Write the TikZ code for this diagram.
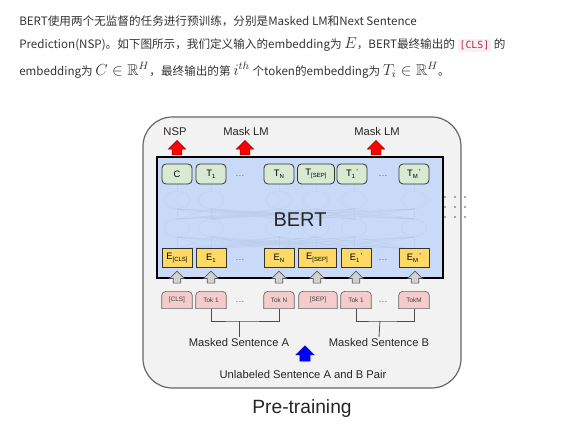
\documentclass[tikz,border=0pt]{standalone}
\usepackage{amsmath}
\usepackage{amssymb}
\usepackage{fontspec}
\setmainfont{Liberation Sans}
\newfontfamily\cjk{Noto Sans CJK SC}
\newfontfamily\codefont{DejaVu Sans Mono}
\usetikzlibrary{shapes.arrows,backgrounds,positioning}
\definecolor{bertblue}{RGB}{201,218,248}
\definecolor{tgreen}{RGB}{217,234,211}
\definecolor{eyellow}{RGB}{255,217,102}
\definecolor{tokpink}{RGB}{244,204,204}
\definecolor{meshblue}{RGB}{170,188,222}
\definecolor{codebg}{RGB}{246,242,244}
\definecolor{codefg}{RGB}{199,37,78}
\newcommand{\tsub}[1]{\raisebox{-0.45ex}{\fontsize{4.5}{5}\selectfont #1}}
\newcommand{\tsup}[1]{\raisebox{0.55ex}{\fontsize{5.5}{6}\selectfont\,#1}}
\newcommand{\mth}[1]{{\fontsize{11.8}{13}\selectfont$#1$}}
\newcommand{\code}[1]{{\setlength{\fboxsep}{1.5pt}\colorbox{codebg}{\codefont\fontsize{7.4}{9}\selectfont\color{codefg}#1}}}
\tikzset{para/.style={anchor=west,inner sep=0pt,text=black!80,font=\cjk\fontsize{8.7}{11}\selectfont}}
\tikzset{outbox/.style={draw=black!60,fill=black!5,line width=0.9pt,rounded corners=22pt}}
\tikzset{bertbox/.style={draw=black,fill=bertblue,line width=1.1pt}}
\tikzset{mesh/.style={draw=meshblue,line width=0.4pt,opacity=0.25}}
\tikzset{tbox/.style={draw=black!80,fill=tgreen,rounded corners=3pt,minimum width=22.5pt,minimum height=15pt,inner sep=0pt,line width=0.6pt,font=\fontsize{7}{8}\selectfont}}
\tikzset{ebox/.style={draw=black!80,fill=eyellow,minimum width=22.5pt,minimum height=14pt,inner sep=0pt,line width=0.6pt,font=\fontsize{7}{8}\selectfont}}
\tikzset{tokbox/.style={minimum width=22.5pt,minimum height=12.5pt,inner sep=0pt,text=black!75,font=\fontsize{4.8}{5}\selectfont}}
\tikzset{tokshape/.style={draw=black!60,fill=tokpink,line width=0.5pt}}
\tikzset{dotsnode/.style={text=black!60,font=\fontsize{7}{8}\selectfont}}
\tikzset{lbl/.style={text=black!85,inner sep=1pt,font=\fontsize{8.4}{10}\selectfont}}
\tikzset{bracket/.style={draw=black!70,line width=0.6pt}}
\tikzset{blockup/.style={single arrow,shape border rotate=90,single arrow head indent=0pt}}
\tikzset{redup/.style={blockup,draw=red!60!black,fill=red,line width=0.4pt,inner sep=3.4pt,minimum height=10.5pt,single arrow head extend=3pt}}
\tikzset{grayup/.style={blockup,draw=black!65,fill=black!18,line width=0.5pt,inner sep=2.6pt,minimum height=9pt,single arrow head extend=2.6pt}}
\tikzset{blueup/.style={blockup,draw=blue!70!black,fill=blue,line width=0.4pt,inner sep=3.6pt,minimum height=9.5pt,single arrow head extend=3pt}}

\begin{document}
\begin{tikzpicture}[x=0.75pt,y=-0.75pt]
    \useasboundingbox (0,0) rectangle (586,427);
    % text above the figure
    \node[para] (line1) at (19,21) {BERT使用两个无监督的任务进行预训练，分别是Masked LM和Next Sentence};
    \node[para] (line2) at (19,45) {Prediction(NSP)。如下图所示，我们定义输入的embedding为 \mth{E}，BERT最终输出的 \code{[CLS]} 的};
    \node[para] (line3) at (19,70) {embedding为 \mth{C\in\mathbb{R}^H}，最终输出的第 \mth{i^{th}} 个token的embedding为 \mth{T_i\in\mathbb{R}^H}。};
    % frame and encoder
    \begin{scope}[on background layer]
        \draw[outbox] (143,117) rectangle (461,388);
    \end{scope}
    \draw[bertbox] (157,157) rectangle (443,278);
    \foreach \x in {177,211,279,316,354,414} {
        \draw[mesh] (\x,200) ellipse (9.5pt and 6.5pt);
        \draw[mesh] (\x,228) ellipse (9.5pt and 6.5pt);
        \draw[mesh] (\x,184) -- (\x,191);
    }
    \foreach \x in {177,211,279,316,354,414}
        \foreach \y in {177,211,279,316,354,414} {
            \draw[mesh] (\x,209) -- (\y,219);
            \draw[mesh] (\x,237) -- (\y,249);
        }
    \node[font=\fontsize{15}{18}\selectfont,text=black!85] (bert) at (300,220) {BERT};
    \foreach \i in {445,455,465}
        \foreach \j in {197,207,217}
            \fill[black!45] (\i,\j) circle (0.8pt);
    % outputs
    \node[tbox] (tc) at (177,174) {C};
    \node[tbox] (t1) at (211,174) {T\tsub{1}};
    \node[dotsnode] (tdotsa) at (240,176) {\ldots};
    \node[tbox] (tn) at (279,174) {T\tsub{N}};
    \node[tbox,minimum width=27.75pt] (tsep) at (316,174) {T\tsub{[SEP]}};
    \node[tbox] (tb1) at (352,174) {T\tsub{1}\tsup{'}};
    \node[dotsnode] (tdotsb) at (383,176) {\ldots};
    \node[tbox] (tm) at (414,174) {T\tsub{M}\tsup{'}};
    \node[redup] (nsparrow) at (177,150) {};
    \node[redup] (mlmarrowa) at (245,150) {};
    \node[redup] (mlmarrowb) at (376,150) {};
    \node[lbl] (nsp) at (175,132) {NSP};
    \node[lbl] (mlma) at (246,132) {Mask LM};
    \node[lbl] (mlmb) at (377,132) {Mask LM};
    % embeddings
    \node[ebox] (ecls) at (177,258) {E\tsub{[CLS]}};
    \node[ebox] (e1) at (211,258) {E\tsub{1}};
    \node[dotsnode] (edotsa) at (240,260) {\ldots};
    \node[ebox] (en) at (279,258) {E\tsub{N}};
    \node[ebox,minimum width=28.5pt] (esep) at (317,258) {E\tsub{[SEP]}};
    \node[ebox] (eb1) at (356,258) {E\tsub{1}\tsup{'}};
    \node[dotsnode] (edotsb) at (383,260) {\ldots};
    \node[ebox] (em) at (414,258) {E\tsub{M}\tsup{'}};
    % input tokens
    \node[grayup] (ga1) at (177,279) {};
    \node[grayup] (ga2) at (211,279) {};
    \node[grayup] (ga3) at (279,279) {};
    \node[grayup] (ga4) at (317,279) {};
    \node[grayup] (ga5) at (356,279) {};
    \node[grayup] (ga6) at (415,279) {};
    \node[tokbox] (kcls) at (177,300) {[CLS]};
    \node[tokbox] (ka1) at (211,300) {Tok 1};
    \node[dotsnode] (kdotsa) at (240,302) {\ldots};
    \node[tokbox] (kan) at (279,300) {Tok N};
    \node[tokbox,minimum width=28.5pt] (ksep) at (318,300) {[SEP]};
    \node[tokbox] (kb1) at (356,300) {Tok 1};
    \node[dotsnode] (kdotsb) at (383,302) {\ldots};
    \node[tokbox] (kbm) at (414,300) {TokM};
    \begin{scope}[on background layer]
        \foreach \n in {kcls,ka1,kan,ksep,kb1,kbm}
            \filldraw[tokshape] (\n.south west) -- ([yshift=-3pt]\n.north west)
                arc[start angle=180,end angle=90,radius=3pt] -- ([xshift=-3pt]\n.north east)
                arc[start angle=90,end angle=0,radius=3pt] -- (\n.south east) -- cycle;
    \end{scope}
    % sentences
    \node[lbl,anchor=north] (msa) at (239,337) {Masked Sentence A};
    \node[lbl,anchor=north] (msb) at (379,337) {Masked Sentence B};
    \coordinate (ja) at (239,321);
    \coordinate (jb) at (380,321);
    \draw[bracket] (ka1.south) |- (ja) -| (kan.south);
    \draw[bracket] (ja) -- (msa.north);
    \draw[bracket] (kb1.south) |- (jb) -| (kbm.south);
    \draw[bracket] (jb) -- (msb.north);
    \node[blueup] (pairarrow) at (305,356) {};
    \node[lbl] (pair) at (303,374) {Unlabeled Sentence A and B Pair};
    \node[font=\fontsize{14.4}{17}\selectfont,text=black!85] (pretrain) at (302,409) {Pre-training};
\end{tikzpicture}
\end{document}
